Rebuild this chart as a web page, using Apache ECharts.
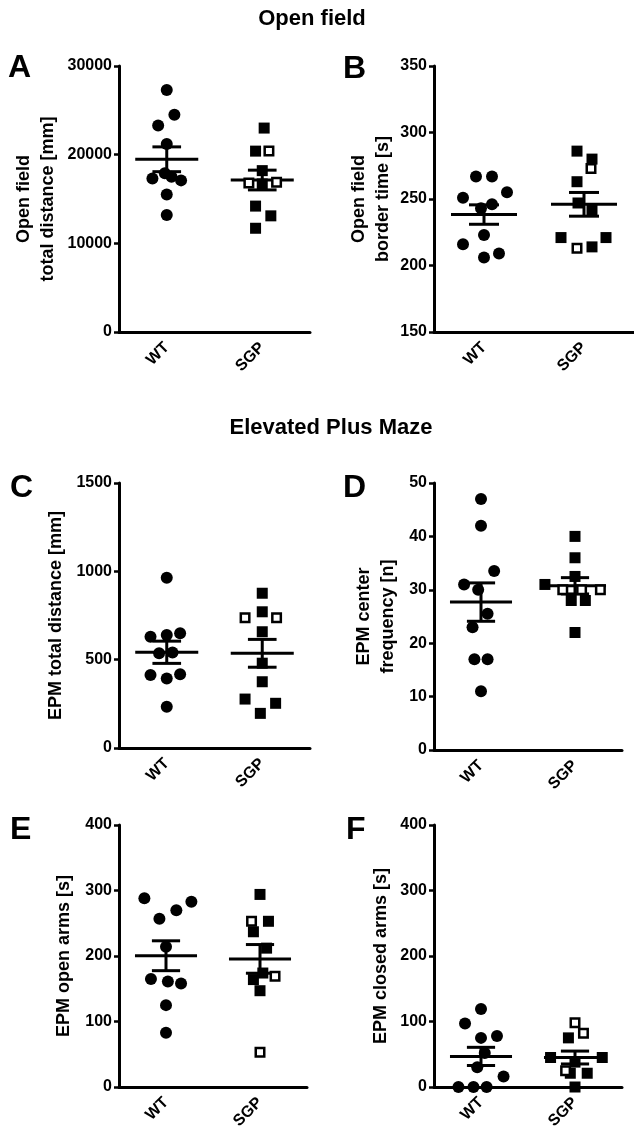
<!DOCTYPE html>
<html lang="en">
<head>
    <meta charset="UTF-8">
    <title>Open field / Elevated Plus Maze</title>
    <script src="https://cdn.jsdelivr.net/npm/echarts@6/dist/echarts.min.js"></script>
    <style>
        html, body { margin: 0; padding: 0; background: #fff; }
    </style>
</head>
<body>
<div id="main" style="width: 634px;height: 1142px;"></div>
<script>
    var groups = ['WT', 'SGP'];

    // A - open field total distance [mm]
    var aWT = [27300, 24500, 23300, 21200, 17300, 17900, 17500, 17100, 15500, 13200];
    var aSGP = [23000, 20400, 18200, 16700, 14200, 13100, 11700];      // filled squares
    var aSGPopen = [20400, 16800, 16900];                              // open squares
    // B - open field border time [s]
    var bWT = [267, 267, 251, 255, 243, 246, 223, 216, 206, 209];
    var bSGP = [286, 280, 263, 247, 242, 221, 214, 221];
    var bSGPopen = [273, 213];
    // C - EPM total distance [mm]
    var cWT = [964, 630, 640, 650, 536, 541, 413, 394, 417, 234];
    var cSGP = [876, 771, 658, 480, 375, 277, 253, 196];
    var cSGPopen = [737, 737];
    // D - EPM center frequency [n]
    var dWT = [47, 42, 33.5, 31, 30, 25.5, 23, 17, 17, 11];
    var dSGP = [40, 36, 32.5, 31, 28, 28, 22];
    var dSGPopen = [30, 30, 30];
    // E - EPM open arms [s]
    var eWT = [288, 283, 270, 257, 214, 165, 161, 158, 125, 83];
    var eSGP = [294, 253, 237, 212, 174, 164, 147];
    var eSGPopen = [253, 169, 53];
    // F - EPM closed arms [s]
    var fWT = [119, 97, 78, 75, 52, 30, 16, 0, 0, 0];
    var fSGP = [75, 45, 45, 38, 21, 21, 0];
    var fSGPopen = [98, 82, 25];

    // horizontal spread of the dots (category units), same order as the values above
    var aWTjit = [0, 0.08, -0.09, 0, -0.15, -0.02, 0.05, 0.15, 0, 0];
    var aSGPjit = [0.02, -0.07, 0, 0, -0.07, 0.09, -0.07];
    var aSGPopenJit = [0.07, -0.14, 0.15];
    var bWTjit = [-0.08, 0.08, -0.21, 0.23, -0.03, 0.08, 0, -0.21, 0, 0.15];
    var bSGPjit = [-0.07, 0.08, -0.07, -0.06, 0.08, -0.23, 0.08, 0.22];
    var bSGPopenJit = [0.07, -0.07];
    var cWTjit = [0, -0.17, 0, 0.14, -0.08, 0.06, -0.17, 0, 0.14, 0];
    var cSGPjit = [0, 0, 0, 0, 0, -0.18, 0.14, -0.02];
    var cSGPopenJit = [-0.18, 0.15];
    var dWTjit = [0, 0, 0.14, -0.18, -0.03, 0.07, -0.09, -0.07, 0.07, 0];
    var dSGPjit = [0, 0, 0, -0.32, -0.04, 0.11, 0];
    var dSGPopenJit = [-0.13, 0.07, 0.27];
    var eWTjit = [-0.23, 0.27, 0.11, -0.07, 0, -0.16, 0.02, 0.16, 0, 0];
    var eSGPjit = [0, 0.09, -0.07, 0.07, 0.03, -0.07, 0];
    var eSGPopenJit = [-0.09, 0.16, 0];
    var fWTjit = [0, -0.17, 0.17, 0, 0.04, -0.04, 0.24, -0.24, -0.08, 0.06];
    var fSGPjit = [-0.07, -0.26, 0.29, 0, 0.13, -0.05, 0];
    var fSGPopenJit = [0, 0.09, -0.1];

    var font = '"Liberation Sans", Arial, Helvetica, sans-serif';

    var panels = [
        {wt: aWT, wtJ: aWTjit, sgp: aSGP, sgpJ: aSGPjit, open: aSGPopen, openJ: aSGPopenJit,
            name: 'Open field\ntotal distance [mm]', min: 0, max: 30000, step: 10000, gap: 59, box: [119, 66, 191, 266]},
        {wt: bWT, wtJ: bWTjit, sgp: bSGP, sgpJ: bSGPjit, open: bSGPopen, openJ: bSGPopenJit,
            name: 'Open field\nborder time [s]', min: 150, max: 350, step: 50, gap: 39, box: [434, 66, 204, 266]},
        {wt: cWT, wtJ: cWTjit, sgp: cSGP, sgpJ: cSGPjit, open: cSGPopen, openJ: cSGPopenJit,
            name: 'EPM total distance [mm]', min: 0, max: 1500, step: 500, gap: 51, box: [119, 483, 191, 265]},
        {wt: dWT, wtJ: dWTjit, sgp: dSGP, sgpJ: dSGPjit, open: dSGPopen, openJ: dSGPopenJit,
            name: 'EPM center\nfrequency [n]', min: 0, max: 50, step: 10, gap: 34, box: [434, 483, 188, 267]},
        {wt: eWT, wtJ: eWTjit, sgp: eSGP, sgpJ: eSGPjit, open: eSGPopen, openJ: eSGPopenJit,
            name: 'EPM open arms [s]', min: 0, max: 400, step: 100, gap: 43, box: [119, 825, 188, 262]},
        {wt: fWT, wtJ: fWTjit, sgp: fSGP, sgpJ: fSGPjit, open: fSGPopen, openJ: fSGPopenJit,
            name: 'EPM closed arms [s]', min: 0, max: 400, step: 100, gap: 41, box: [434, 825, 188, 262]}
    ];

    // mean and SEM of one group
    function meanSem(vals) {
        var n = vals.length, s = 0, ss = 0;
        for (var i = 0; i < n; i++) s += vals[i];
        var m = s / n;
        for (var j = 0; j < n; j++) ss += (vals[j] - m) * (vals[j] - m);
        return [m, Math.sqrt(ss / (n - 1)) / Math.sqrt(n)];
    }

    function pts(vals, jit, g) {
        return vals.map(function (v, i) { return [g + jit[i], v]; });
    }

    function renderMean(params, api) {
        var x = api.value(0), m = api.value(1), s = api.value(2);
        function seg(x1, y1, x2, y2) {
            var p1 = api.coord([x1, y1]), p2 = api.coord([x2, y2]);
            return {type: 'line', shape: {x1: p1[0], y1: p1[1], x2: p2[0], y2: p2[1]},
                style: {stroke: '#000', lineWidth: 3}};
        }
        return {type: 'group', children: [
            seg(x - 0.33, m, x + 0.33, m),      // mean
            seg(x, m - s, x, m + s),            // sem whisker
            seg(x - 0.15, m + s, x + 0.15, m + s),
            seg(x - 0.15, m - s, x + 0.15, m - s)
        ]};
    }

    var grids = [], xAxes = [], yAxes = [], series = [];
    panels.forEach(function (p, i) {
        grids.push({left: p.box[0], top: p.box[1], width: p.box[2], height: p.box[3]});
        xAxes.push({
            gridIndex: i, type: 'category', data: groups, boundaryGap: true,
            axisLine: {onZero: false, lineStyle: {color: '#000', width: 3}},
            axisTick: {alignWithLabel: true, length: 5, lineStyle: {color: '#000', width: 2.5}},
            axisLabel: {rotate: 45, margin: 13, color: '#000', fontSize: 16, fontWeight: 'bold', fontFamily: font},
            splitLine: {show: false}
        });
        xAxes.push({gridIndex: i, type: 'value', min: -0.5, max: 1.5, show: false});
        yAxes.push({
            gridIndex: i, type: 'value', min: p.min, max: p.max, interval: p.step,
            name: p.name, nameLocation: 'middle', nameGap: p.gap, nameRotate: 90,
            nameTextStyle: {color: '#000', fontSize: 18, fontWeight: 'bold', lineHeight: 24, fontFamily: font},
            axisLine: {show: true, onZero: false, lineStyle: {color: '#000', width: 3}},
            axisTick: {show: true, length: 5, lineStyle: {color: '#000', width: 2.5}},
            axisLabel: {margin: 7, color: '#000', fontSize: 16, fontWeight: 'bold', fontFamily: font,
                formatter: function (v) { return String(v); }},
            splitLine: {show: false}
        });
        var xi = i * 2 + 1;
        var all = p.sgp.concat(p.open);
        var w = meanSem(p.wt), s = meanSem(all);
        series.push({
            type: 'scatter', xAxisIndex: xi, yAxisIndex: i, clip: false, z: 2,
            symbol: 'circle', symbolSize: 12, itemStyle: {color: '#000', opacity: 1},
            data: pts(p.wt, p.wtJ, 0)
        });
        series.push({
            type: 'scatter', xAxisIndex: xi, yAxisIndex: i, clip: false, z: 2,
            symbol: 'rect', symbolSize: 11, itemStyle: {color: '#000', opacity: 1},
            data: pts(p.sgp, p.sgpJ, 1)
        });
        series.push({
            type: 'custom', xAxisIndex: xi, yAxisIndex: i, clip: false, z: 3,
            renderItem: renderMean, encode: {x: 0, y: 1},
            data: [[0, w[0], w[1]], [1, s[0], s[1]]]
        });
        series.push({
            type: 'scatter', xAxisIndex: xi, yAxisIndex: i, clip: false, z: 4,
            symbol: 'rect', symbolSize: 8.5,
            itemStyle: {color: '#fff', borderColor: '#000', borderWidth: 2.5, opacity: 1},
            data: pts(p.open, p.openJ, 1)
        });
    });

    function txt(s, x, y, size, align) {
        return {type: 'text', x: x, y: y, style: {text: s, fill: '#000', align: align,
            verticalAlign: 'middle', font: 'bold ' + size + 'px ' + font}};
    }

    var myChart = echarts.init(document.getElementById('main'));
    myChart.setOption({
        backgroundColor: '#fff',
        animation: false,
        graphic: [
            txt('Open field', 312, 19, 22, 'center'),
            txt('Elevated Plus Maze', 331, 428, 22, 'center'),
            txt('A', 8, 68, 32, 'left'),
            txt('B', 343, 69, 32, 'left'),
            txt('C', 10, 488, 32, 'left'),
            txt('D', 343, 488, 32, 'left'),
            txt('E', 10, 830, 32, 'left'),
            txt('F', 346, 830, 32, 'left')
        ],
        grid: grids,
        xAxis: xAxes,
        yAxis: yAxes,
        series: series
    });
</script>
</body>
</html>
